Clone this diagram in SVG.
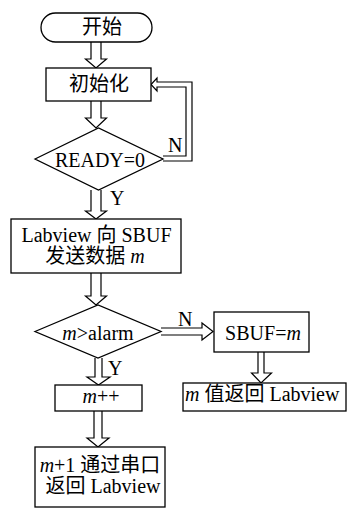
<svg xmlns="http://www.w3.org/2000/svg" width="347" height="508" viewBox="0 0 347 508">
<style>
.s{fill:#fff;stroke:#000;stroke-width:1.3}
.a{fill:#fff;stroke:#000;stroke-width:1.2;stroke-linejoin:miter}
.t{font-family:'Liberation Serif','Times New Roman','DejaVu Serif','Noto Sans CJK SC',serif;font-size:20px;fill:#000}
.m{text-anchor:middle}
.i{font-style:italic}
</style>
<rect width="347" height="508" fill="#fff"/>
<g id="connectors">
<path class="a" d="M91,42 V59 H85.5 L96,68 L106.5,59 H101 V42"/>
<path class="a" d="M91,101 V118 H85.5 L96,128 L106.5,118 H101 V101"/>
<path class="a" d="M91,190 V211 H85.5 L96,219 L106.5,211 H101 V190"/>
<path class="a" d="M91,273 V296 H85.5 L96,305 L106.5,296 H101 V273"/>
<path class="a" d="M95,358 V377 H87 L98.5,385 L110,377 H102 V358"/>
<path class="a" d="M94,411 V438 H87 L98,447 L109,438 H102 V411"/>
<path class="a" d="M161,328 H202 V323 L213,331.5 L202,340 V335 H161"/>
<path class="a" d="M258,352 V373 H251.5 L261,383 L271.5,373 H264 V352"/>
<path class="a" d="M163,161 H192 V82 H157 V78 L151,84.5 L157,91 V87 H186 V156 H163"/>
<text class="t" x="168" y="152">N</text>
<text class="t" x="110" y="205">Y</text>
<text class="t" x="178" y="326">N</text>
<text class="t" x="108" y="375">Y</text>
</g>
<g id="start">
<rect class="s" x="41" y="13" width="111" height="29" rx="14.5"/>
<text class="t m" x="102" y="34">开始</text>
</g>
<g id="init">
<rect class="s" x="46" y="68" width="105" height="33"/>
<text class="t m" x="99" y="91">初始化</text>
</g>
<g id="ready">
<polygon class="s" points="35,159 98.5,128 163,159 98.5,190"/>
<text class="t m" x="100" y="167">READY=0</text>
</g>
<g id="send">
<rect class="s" x="11" y="219" width="170" height="54"/>
<text class="t m" x="96.5" y="242">Labview 向 SBUF</text>
<text class="t m" x="95" y="263">发送数据 <tspan class="i">m</tspan></text>
</g>
<g id="compare">
<polygon class="s" points="35,331.5 98,305 161,331.5 98,358"/>
<text class="t m" x="98" y="340"><tspan class="i">m</tspan>&gt;alarm</text>
</g>
<g id="sbuf">
<rect class="s" x="214" y="312" width="95" height="40"/>
<text class="t m" x="263" y="340">SBUF=<tspan class="i">m</tspan></text>
</g>
<g id="return1">
<rect class="s" x="183" y="383" width="163" height="28"/>
<text class="t" x="185" y="401"><tspan class="i">m</tspan> 值返回 Labview</text>
</g>
<g id="inc">
<rect class="s" x="55" y="385" width="87" height="26"/>
<text class="t m" x="101" y="403"><tspan class="i">m</tspan>++</text>
</g>
<g id="return2">
<rect class="s" x="35" y="447" width="130" height="60"/>
<text class="t m" x="100" y="472"><tspan class="i">m</tspan>+1 通过串口</text>
<text class="t m" x="103" y="493">返回 Labview</text>
</g>
</svg>
